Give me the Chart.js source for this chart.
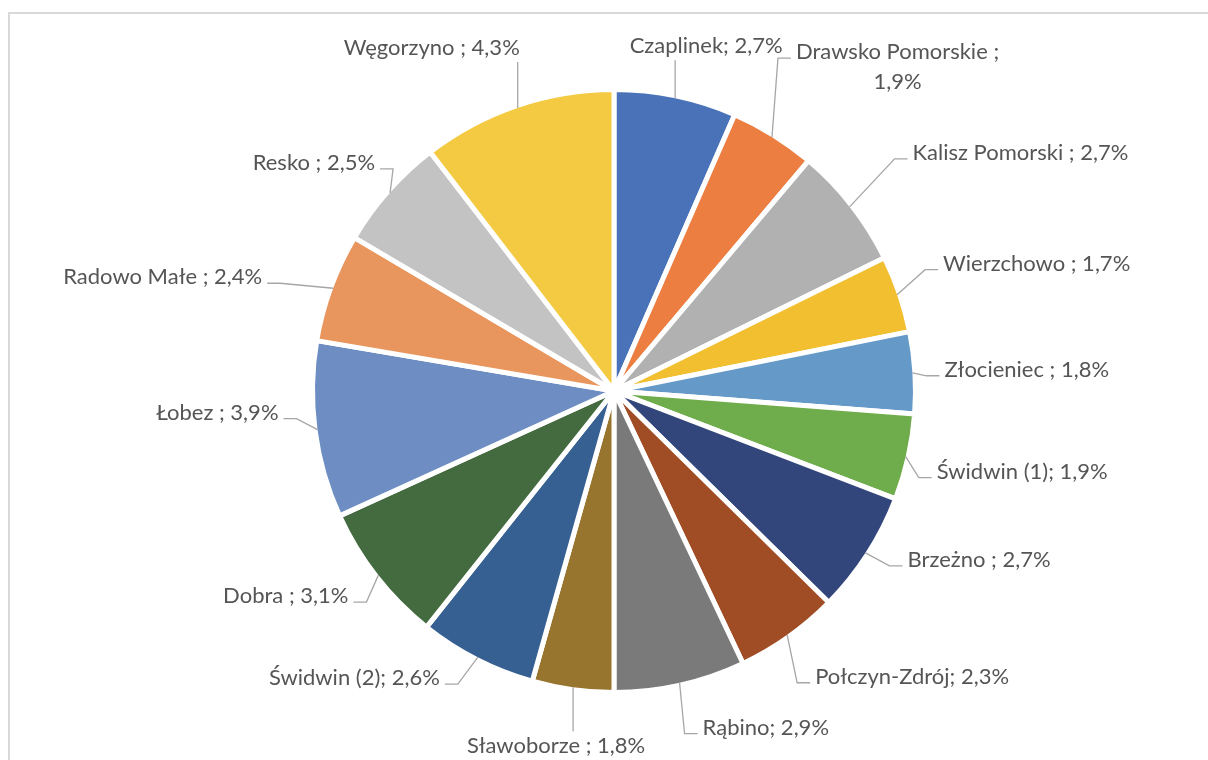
<!DOCTYPE html>
<html>
<head>
<meta charset="utf-8">
<script src="https://cdn.jsdelivr.net/npm/chart.js@4"></script>
<style>
  html, body { margin: 0; padding: 0; background: #ffffff; }
  canvas { display: block; }
</style>
</head>
<body>
<canvas id="myChart" width="1208" height="760"></canvas>
<script>
// UDZIAŁ GMIN

const gminy = [
    'Czaplinek', 'Drawsko Pomorskie ', 'Kalisz Pomorski ', 'Wierzchowo ', 'Złocieniec ',
    'Świdwin (1)', 'Brzeżno ', 'Połczyn-Zdrój', 'Rąbino', 'Sławoborze ',
    'Świdwin (2)', 'Dobra ', 'Łobez ', 'Radowo Małe ', 'Resko ', 'Węgorzyno '
];

const udzial = [2.7, 1.9, 2.7, 1.7, 1.8, 1.9, 2.7, 2.3, 2.9, 1.8, 2.6, 3.1, 3.9, 2.4, 2.5, 4.3];

const kolory = [
    '#4A72B8', '#EB7E40', '#B1B1B1', '#F2BF30', '#6599C8', '#6FAD4C', '#33467B', '#A04C24',
    '#7A7A7A', '#98752E', '#366091', '#446B40', '#6D8DC3', '#E8955E', '#C3C3C3', '#F4CA42'
];

// polozenie etykiet wzgledem srodka luku: [dx, dy, wyrownanie]
const etykiety = [
    [31, -52, 'center'], [24, -85, 'left'], [63, -54, 'left'], [46, -31, 'left'],
    [32, -3, 'left'], [31, 15, 'left'], [42, 7, 'left'], [28, 42, 'left'],
    [23, 45, 'left'], [-17, 59, 'center'], [-38, 21, 'right'], [-30, 21, 'right'],
    [-39, -17, 'right'], [-71, -11, 'right'], [-15, -30, 'right'], [-86, -60, 'center']
];

function tekst(i) {
    const v = udzial[i].toFixed(1).replace('.', ',') + '%';
    if (i === 1) return [gminy[i] + ';', v];  // zawiniete w dwie linie
    return [gminy[i] + '; ' + v];
}

const ramka = {
    id: 'ramka',
    beforeDraw(chart) {
        const ctx = chart.ctx;
        ctx.save();
        ctx.strokeStyle = '#D9D9D9';
        ctx.lineWidth = 2;
        ctx.strokeRect(9, 13, 1400, 1000);
        ctx.restore();
    }
};

const opisy = {
    id: 'opisy',
    afterDatasetsDraw(chart) {
        const ctx = chart.ctx;
        const arcs = chart.getDatasetMeta(0).data;
        ctx.save();
        ctx.font = '22px Lato';
        ctx.fillStyle = '#555555';
        ctx.strokeStyle = '#A6A6A6';
        ctx.lineWidth = 1.3;
        ctx.textBaseline = 'middle';
        arcs.forEach((arc, i) => {
            const p = arc.getProps(['x', 'y', 'startAngle', 'endAngle', 'outerRadius'], true);
            const mid = (p.startAngle + p.endAngle) / 2;
            const r = p.outerRadius - 2.5;
            const x0 = p.x + Math.cos(mid) * r;
            const y0 = p.y + Math.sin(mid) * r;
            const [dx, dy, align] = etykiety[i];
            const tx = x0 + dx, ty = y0 + dy;
            const lines = tekst(i);
            const w = Math.max(...lines.map(l => ctx.measureText(l).width));

            ctx.beginPath();
            ctx.moveTo(x0, y0);
            if (align === 'left') {
                ctx.lineTo(tx - 18, ty + 6);
                ctx.lineTo(tx - 5, ty + 6);
            } else if (align === 'right') {
                ctx.lineTo(tx + 18, ty + 6);
                ctx.lineTo(tx + 5, ty + 6);
            } else if (dy < 0) {
                ctx.lineTo(x0, ty + 14);
            } else {
                ctx.lineTo(x0, ty - 15);
            }
            ctx.stroke();

            let cx;
            if (align === 'left') cx = tx + w / 2;
            else if (align === 'right') cx = tx - w / 2;
            else cx = tx;
            ctx.textAlign = 'center';
            lines.forEach((l, k) => {
                ctx.fillText(l, cx, ty + k * 30);
            });
        });
        ctx.restore();
    }
};

const data = {
    labels: gminy,
    datasets: [{
        data: udzial,
        backgroundColor: kolory,
        borderColor: '#ffffff',
        borderWidth: 5
    }]
};

const config = {
    type: 'pie',
    data: data,
    options: {
        responsive: false,
        animation: false,
        layout: {
            padding: { top: 87, bottom: 65, left: 310, right: 290 }
        },
        plugins: {
            legend: { display: false },
            tooltip: { enabled: false }
        }
    },
    plugins: [ramka, opisy]
};

const myChart = new Chart(
    document.getElementById('myChart'),
    config
);

// FIN
</script>
</body>
</html>
